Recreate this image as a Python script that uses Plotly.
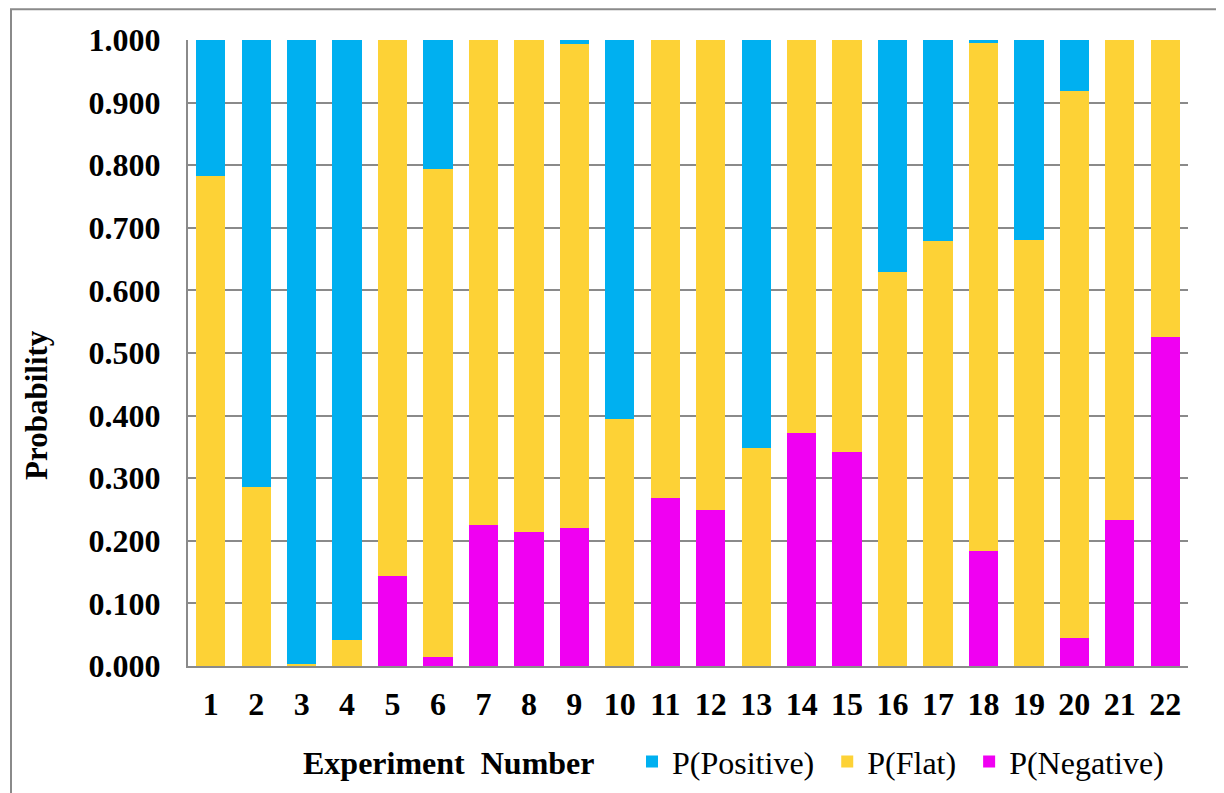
import plotly.graph_objects as go

experiments = [str(i) for i in range(1, 23)]
p_negative = [0.000, 0.000, 0.000, 0.000, 0.144, 0.014, 0.225, 0.214, 0.221, 0.000, 0.269,
              0.249, 0.000, 0.372, 0.342, 0.000, 0.000, 0.183, 0.000, 0.044, 0.233, 0.526]
p_flat = [0.782, 0.286, 0.003, 0.042, 0.856, 0.780, 0.775, 0.786, 0.772, 0.394, 0.731,
          0.751, 0.349, 0.628, 0.658, 0.630, 0.679, 0.813, 0.680, 0.875, 0.767, 0.474]
p_positive = [0.218, 0.714, 0.997, 0.958, 0.000, 0.206, 0.000, 0.000, 0.007, 0.606, 0.000,
              0.000, 0.651, 0.000, 0.000, 0.370, 0.321, 0.004, 0.320, 0.081, 0.000, 0.000]
y_ticks = [0.0, 0.1, 0.2, 0.3, 0.4, 0.5, 0.6, 0.7, 0.8, 0.9, 1.0]

FONT = "Liberation Serif, Times New Roman, serif"
GRID = "#8a8a8a"
NB = "\u00a0"

fig = go.Figure()
fig.add_trace(go.Bar(x=experiments, y=p_negative, name="P(Negative)",
                     marker=dict(color="#F000F2", line=dict(width=0))))
fig.add_trace(go.Bar(x=experiments, y=p_flat, name="P(Flat)" + NB,
                     marker=dict(color="#FDD236", line=dict(width=0))))
fig.add_trace(go.Bar(x=experiments, y=p_positive, name="P(Positive)" + NB,
                     marker=dict(color="#00B0F0", line=dict(width=0))))

fig.update_layout(
    width=1224, height=793,
    margin=dict(l=180, r=44, t=32, b=135, autoexpand=False),
    barmode="stack", bargap=0.355,
    paper_bgcolor="white", plot_bgcolor="white",
    font=dict(family=FONT, color="black"),
    showlegend=True,
    legend=dict(orientation="h", traceorder="reversed",
                x=0.444, xanchor="left", y=-0.153, yanchor="middle",
                font=dict(family=FONT, size=32, color="black"),
                itemwidth=30, bgcolor="rgba(0,0,0,0)"),
)
fig.update_xaxes(type="category", showgrid=False, showline=True, linecolor=GRID, linewidth=2,
                 ticks="", automargin=False,
                 tickfont=dict(family=FONT, size=32, color="black", weight="bold"),
                 ticklabelstandoff=9)
fig.update_yaxes(range=[0, 1.0], tickvals=y_ticks, tickformat=".3f",
                 showgrid=True, gridcolor=GRID, gridwidth=2,
                 showline=True, linecolor=GRID, linewidth=2, zeroline=False,
                 ticks="", automargin=False,
                 tickfont=dict(family=FONT, size=32, color="black", weight="bold"),
                 ticklabelstandoff=19)

fig.add_annotation(text="<b>Experiment  Number</b>", xref="paper", yref="paper",
                   x=0.261, y=-0.155, xanchor="center", yanchor="middle", showarrow=False,
                   font=dict(family=FONT, size=32, color="black"))
fig.add_annotation(text="<b>Probability</b>", xref="paper", yref="paper",
                   x=-0.151, y=0.417, xanchor="center", yanchor="middle", showarrow=False,
                   textangle=-90, font=dict(family=FONT, size=31, color="black"))

# outer chart frame
fig.add_shape(type="rect", xref="paper", yref="paper", x0=-0.177, x1=1.2, y0=-0.5, y1=1.049,
              line=dict(color="#8a8a8a", width=2), fillcolor="rgba(0,0,0,0)", layer="below")

fig.write_html("out.html")
